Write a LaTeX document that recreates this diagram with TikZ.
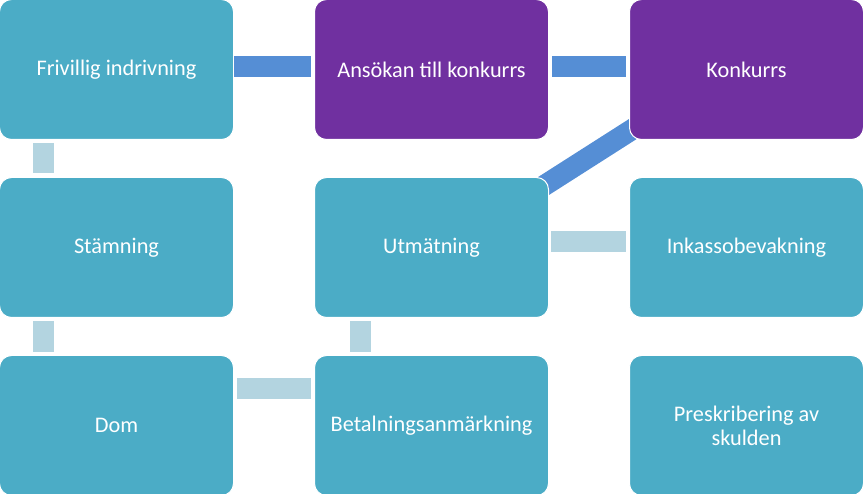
\documentclass[tikz,border=0pt]{standalone}
\usepackage{fontspec}
\setmainfont{Carlito}
\definecolor{teal}{HTML}{4BACC6}
\definecolor{purp}{HTML}{7030A0}
\definecolor{darkbar}{HTML}{558ED5}
\definecolor{lightbar}{HTML}{B3D4E0}
\begin{document}
\begin{tikzpicture}[x=1pt,y=1pt,
  boxnode/.style={draw=white,line width=1pt,rounded corners=12pt,minimum width=234pt,minimum height=140pt,
    inner sep=0pt,text=white,align=center,font=\fontsize{22.3}{24}\selectfont},
  tealbox/.style={boxnode,fill=teal},
  purpbox/.style={boxnode,fill=purp},
  dbar/.style={draw=darkbar,line width=21pt,line cap=butt},
  lbar/.style={draw=lightbar,line width=21pt,line cap=butt}]
\useasboundingbox (0,0) rectangle (863,-494);
% node positions (centers)
\coordinate (c1) at (116.5,-69.5);
\coordinate (c2) at (431.5,-69.5);
\coordinate (c3) at (746.5,-69.5);
\coordinate (c4) at (116.5,-247.5);
\coordinate (c5) at (431.5,-247.5);
\coordinate (c6) at (746.5,-247.5);
\coordinate (c7) at (116.5,-425.5);
\coordinate (c8) at (431.5,-425.5);
\coordinate (c9) at (746.5,-425.5);
% diagonal connector under boxes
\draw[dbar] ([yshift=-10pt]c5) -- ([yshift=13pt]c3);
\node[tealbox] (n1) at (c1) {Frivillig indrivning};
\node[purpbox] (n2) at (c2) {Ansökan till konkurrs};
\node[purpbox] (n3) at (c3) {Konkurrs};
\node[tealbox] (n4) at (c4) {Stämning};
\node[tealbox] (n5) at (c5) {Utmätning};
\node[tealbox] (n6) at (c6) {Inkassobevakning};
\node[tealbox] (n7) at (c7) {Dom};
\node[tealbox] (n8) at (c8) {Betalningsanmärkning};
\node[tealbox] (n9) at (c9) {Preskribering av\\skulden};
% connectors
\draw[dbar,shorten >=3pt] ([yshift=3pt]n1.east) -- ([yshift=3pt]n2.west);
\draw[dbar,shorten <=3pt,shorten >=3pt] ([yshift=3pt]n2.east) -- ([yshift=3pt]n3.west);
\draw[lbar,shorten <=2pt,shorten >=3pt] ([yshift=6pt]n5.east) -- ([yshift=6pt]n6.west);
\draw[lbar,shorten <=3pt,shorten >=3pt] ([yshift=37pt]n7.east) -- ([yshift=37pt]n8.west);
\draw[lbar,shorten <=3pt,shorten >=4pt] ([xshift=-73pt]n1.south) -- ([xshift=-73pt]n4.north);
\draw[lbar,shorten <=3pt,shorten >=3pt] ([xshift=-73pt]n4.south) -- ([xshift=-73pt]n7.north);
\draw[lbar,shorten <=3pt,shorten >=3pt] ([xshift=-71.5pt]n8.north) -- ([xshift=-71.5pt]n5.south);
\end{tikzpicture}
\end{document}
